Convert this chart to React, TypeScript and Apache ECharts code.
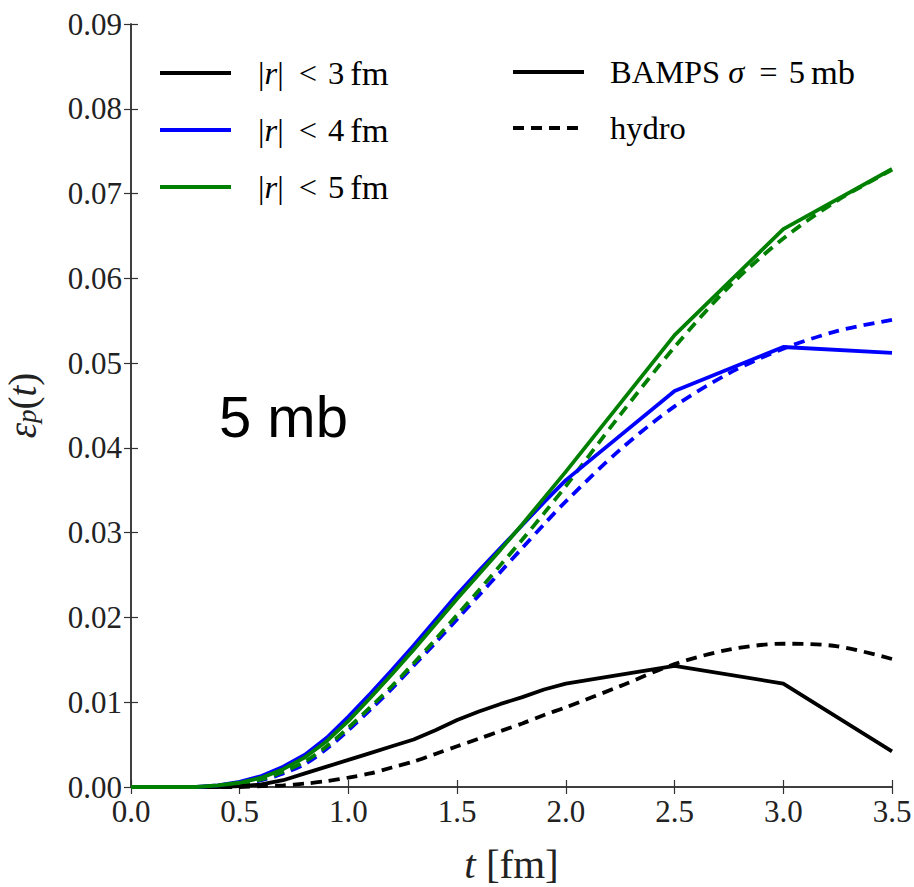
import React, { useEffect, useRef } from "react";
import * as echarts from "echarts";

// time grids
const tBamps = [0, 0.1, 0.2, 0.3, 0.4, 0.5, 0.6, 0.7, 0.8, 0.9, 1.0, 1.1, 1.2, 1.3, 1.4, 1.5, 1.6, 1.7, 1.8, 1.9, 2.0, 2.5, 3.0, 3.5];
const tHydro = [0, 0.1, 0.2, 0.3, 0.4, 0.5, 0.6, 0.7, 0.8, 0.9, 1.0, 1.1, 1.2, 1.3, 1.4, 1.5, 1.6, 1.7, 1.8, 1.9, 2.0, 2.25, 2.5, 2.75, 3.0, 3.25, 3.5];

// BAMPS sigma = 5 mb (solid)
const bampsR3 = [0, 0, 0, 0, 0, 0.0001, 0.0003, 0.0008, 0.0016, 0.0024, 0.0032, 0.0040, 0.0048, 0.0056, 0.0067, 0.0079, 0.0089, 0.0098, 0.0106, 0.0115, 0.0122, 0.0143, 0.0122, 0.0042];
const bampsR4 = [0, 0, 0, 0, 0.0002, 0.0006, 0.0013, 0.0024, 0.0038, 0.0058, 0.0083, 0.0110, 0.0138, 0.0167, 0.0197, 0.0227, 0.0255, 0.0282, 0.0309, 0.0336, 0.0362, 0.0467, 0.0519, 0.0512];
const bampsR5 = [0, 0, 0, 0, 0.0002, 0.0005, 0.0011, 0.0021, 0.0035, 0.0054, 0.0078, 0.0105, 0.0133, 0.0162, 0.0192, 0.0222, 0.0251, 0.0280, 0.0310, 0.0341, 0.0372, 0.0533, 0.0658, 0.0729];

// hydro (dashed)
const hydroR3 = [0, 0, 0, 0, 0, 0, 0.0001, 0.0002, 0.0004, 0.0007, 0.0011, 0.0016, 0.0023, 0.0030, 0.0039, 0.0048, 0.0057, 0.0066, 0.0075, 0.0085, 0.0094, 0.0119, 0.0145, 0.0162, 0.0169, 0.0166, 0.0151];
const hydroR4 = [0, 0, 0, 0, 0.0001, 0.0003, 0.0008, 0.0016, 0.0027, 0.0045, 0.0067, 0.0091, 0.0116, 0.0143, 0.0170, 0.0198, 0.0226, 0.0254, 0.0282, 0.0310, 0.0337, 0.0398, 0.0449, 0.0488, 0.0517, 0.0538, 0.0551];
const hydroR5 = [0, 0, 0, 0, 0.0001, 0.0004, 0.0009, 0.0018, 0.0030, 0.0048, 0.0070, 0.0094, 0.0119, 0.0146, 0.0174, 0.0203, 0.0232, 0.0262, 0.0292, 0.0323, 0.0355, 0.0439, 0.0519, 0.0590, 0.0647, 0.0692, 0.0728];

const colorLabels = ["3", "4", "5"];
const colors = ["#000000", "#0000ff", "#008000"];
const styleLabels = ["BAMPS", "hydro"];

const SERIF = "Liberation Serif";

function pairs(t: number[], v: number[]) {
  return t.map((x, i) => [x, v[i]]);
}

export default function App() {
  const ref = useRef<HTMLDivElement>(null);
  useEffect(() => {
    if (!ref.current) return;
    const chart = echarts.init(ref.current, null, { renderer: "svg" });
    const axisLine = { show: true, lineStyle: { color: "#333", width: 1.5 } };
    const tick = { show: true, inside: true, length: 7, lineStyle: { color: "#333", width: 1.2 } };
    const labelStyle = { fontFamily: SERIF, fontSize: 31, color: "#222" };
    const lw = 3.8;
    const dash = [11, 7];
    const bampsSets = [bampsR3, bampsR4, bampsR5];
    const hydroSets = [hydroR3, hydroR4, hydroR5];
    const series: any[] = [];
    bampsSets.forEach((d, i) => {
      series.push({
        type: "line",
        name: "BAMPS r<" + colorLabels[i],
        data: pairs(tBamps, d),
        showSymbol: false,
        lineStyle: { color: colors[i], width: lw },
        z: 3,
      });
    });
    hydroSets.forEach((d, i) => {
      series.push({
        type: "line",
        name: "hydro r<" + colorLabels[i],
        data: pairs(tHydro, d),
        showSymbol: false,
        smooth: 0.3,
        lineStyle: { color: colors[i], width: lw, type: dash },
        z: 2,
      });
    });

    const fs = 32.5;
    const legendRich = {
      a: { fontFamily: SERIF, fontSize: fs, color: "#222" },
      u: { fontFamily: SERIF, fontSize: 34.5, color: "#222" },
      i: { fontFamily: SERIF, fontSize: fs, fontStyle: "italic", color: "#222" },
      op: { fontFamily: SERIF, fontSize: fs, color: "#222", padding: [0, 11, 0, 15] },
      n: { fontFamily: SERIF, fontSize: fs, color: "#222", padding: [0, 6, 0, 0] },
    };
    const legendRowsY = [73, 130, 187];
    const graphics: any[] = [];
    colorLabels.forEach((lab, i) => {
      graphics.push({
        type: "line",
        shape: { x1: 160, y1: legendRowsY[i], x2: 231, y2: legendRowsY[i] },
        style: { stroke: colors[i], lineWidth: lw },
      });
      graphics.push({
        type: "text",
        x: 258,
        y: legendRowsY[i],
        style: {
          text: "{a||}{i|r}{a||}{op|<}{n|" + lab + "}{u|fm}",
          rich: legendRich,
          verticalAlign: "middle",
          align: "left",
        },
      });
    });
    graphics.push({
      type: "line",
      shape: { x1: 513, y1: 72, x2: 584, y2: 72 },
      style: { stroke: "#000", lineWidth: lw },
    });
    graphics.push({
      type: "text",
      x: 610,
      y: 72,
      style: {
        text: "{a|" + styleLabels[0] + " }{i|σ}{op|=}{n|5}{u|mb}",
        rich: legendRich,
        verticalAlign: "middle",
        align: "left",
      },
    });
    graphics.push({
      type: "line",
      shape: { x1: 513, y1: 128, x2: 584, y2: 128 },
      style: { stroke: "#000", lineWidth: lw, lineDash: dash },
    });
    graphics.push({
      type: "text",
      x: 610,
      y: 128,
      style: {
        text: "{a|" + styleLabels[1] + "}",
        rich: legendRich,
        verticalAlign: "middle",
        align: "left",
      },
    });
    graphics.push({
      type: "text",
      x: 219,
      y: 416,
      style: {
        text: "5 mb",
        fontFamily: "Liberation Sans",
        fontSize: 58,
        fill: "#000",
        verticalAlign: "middle",
        align: "left",
      },
    });

    chart.setOption({
      animation: false,
      backgroundColor: "#fff",
      textStyle: { fontFamily: SERIF },
      grid: { left: 131, right: 22, top: 24, bottom: 100, containLabel: false, outerBoundsMode: "none" },
      xAxis: [
        {
          type: "value",
          min: 0,
          max: 3.5,
          interval: 0.5,
          axisLine,
          axisTick: tick,
          splitLine: { show: false },
          axisLabel: { ...labelStyle, margin: 9, formatter: (v: number) => v.toFixed(1) },
          name: "{i|t}{a| [fm]}",
          nameLocation: "middle",
          nameGap: 56,
          nameTextStyle: {
            rich: {
              i: { fontFamily: SERIF, fontSize: 41, fontStyle: "italic", color: "#222" },
              a: { fontFamily: SERIF, fontSize: 41, color: "#222" },
            },
          },
        },
        {
          type: "value",
          position: "top",
          min: 0,
          max: 3.5,
          interval: 0.5,
          axisLine,
          axisTick: tick,
          splitLine: { show: false },
          axisLabel: { show: false },
        },
      ],
      yAxis: [
        {
          type: "value",
          min: 0,
          max: 0.09,
          interval: 0.01,
          axisLine,
          axisTick: tick,
          splitLine: { show: false },
          axisLabel: { ...labelStyle, margin: 9, formatter: (v: number) => v.toFixed(2) },
          name: "{i|ε}{s|p}{a|(}{i|t}{a|)}",
          nameLocation: "middle",
          nameGap: 90,
          nameTextStyle: {
            rich: {
              i: { fontFamily: SERIF, fontSize: 39, fontStyle: "italic", color: "#222", lineHeight: 38 },
              a: { fontFamily: SERIF, fontSize: 39, color: "#222", lineHeight: 38 },
              s: { fontFamily: SERIF, fontSize: 27, fontStyle: "italic", color: "#222", lineHeight: 30, padding: [10, 0, 0, 0] },
            },
          },
        },
        {
          type: "value",
          position: "right",
          min: 0,
          max: 0.09,
          interval: 0.01,
          axisLine,
          axisTick: tick,
          splitLine: { show: false },
          axisLabel: { show: false },
        },
      ],
      graphic: graphics,
      series,
    });
    return () => chart.dispose();
  }, []);
  return <div ref={ref} style={{ width: 914, height: 887, position: "absolute", left: 0, top: 0 }} />;
}
